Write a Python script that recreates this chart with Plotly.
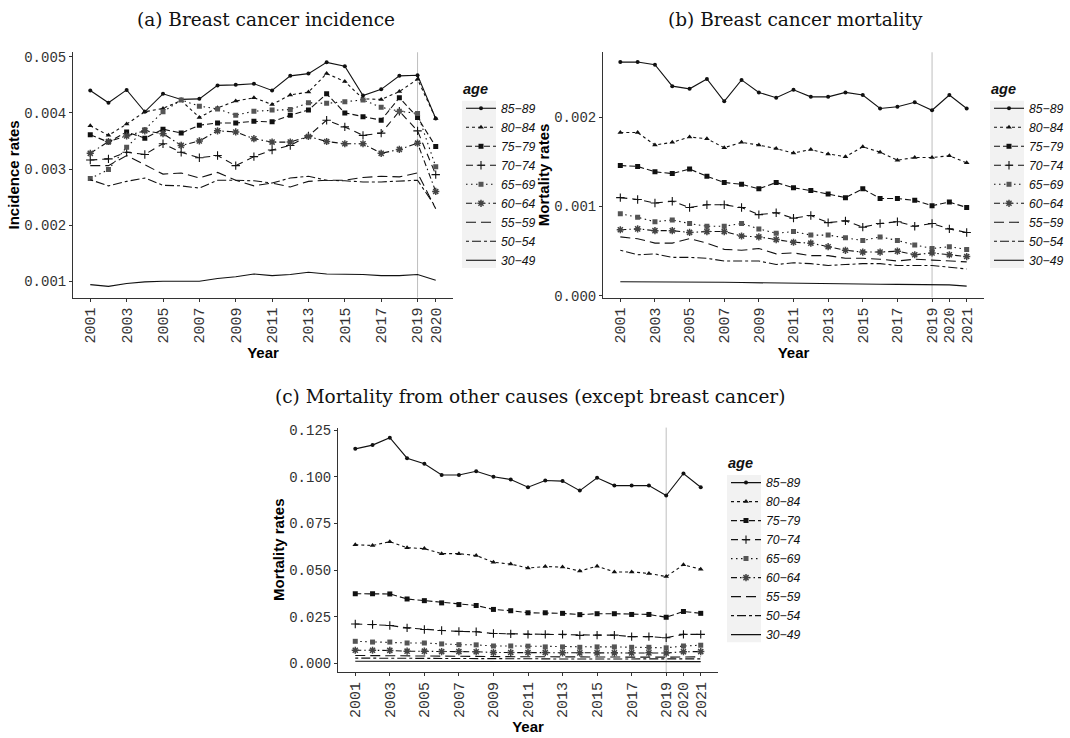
import plotly.graph_objects as go

# ---------------- data ----------------
ages = ["85−89", "80−84", "75−79", "70−74", "65−69", "60−64", "55−59", "50−54", "30−49"]

years_a = [2001, 2002, 2003, 2004, 2005, 2006, 2007, 2008, 2009, 2010,
           2011, 2012, 2013, 2014, 2015, 2016, 2017, 2018, 2019, 2020]
years_bc = [2001, 2002, 2003, 2004, 2005, 2006, 2007, 2008, 2009, 2010,
            2011, 2012, 2013, 2014, 2015, 2016, 2017, 2018, 2019, 2020, 2021]

xticks_a = [2001, 2003, 2005, 2007, 2009, 2011, 2013, 2015, 2017, 2019, 2020]
xticks_bc = [2001, 2003, 2005, 2007, 2009, 2011, 2013, 2015, 2017, 2019, 2020, 2021]
yticks_a = [0.001, 0.002, 0.003, 0.004, 0.005]
yticks_b = [0.000, 0.001, 0.002]
yticks_c = [0.000, 0.025, 0.050, 0.075, 0.100, 0.125]

# (a) Breast cancer incidence
inc_85_89 = [0.00440, 0.00418, 0.00441, 0.00402, 0.00434, 0.00424, 0.00425, 0.00449, 0.00450, 0.00452,
             0.00440, 0.00466, 0.00470, 0.00490, 0.00483, 0.00431, 0.00442, 0.00466, 0.00467, 0.00390]
inc_80_84 = [0.00377, 0.00360, 0.00380, 0.00402, 0.00408, 0.00422, 0.00392, 0.00409, 0.00421, 0.00427,
             0.00415, 0.00432, 0.00437, 0.00470, 0.00456, 0.00425, 0.00424, 0.00438, 0.00460, 0.00390]
inc_75_79 = [0.00361, 0.00348, 0.00366, 0.00355, 0.00371, 0.00364, 0.00378, 0.00382, 0.00382, 0.00385,
             0.00384, 0.00396, 0.00405, 0.00434, 0.00400, 0.00393, 0.00387, 0.00427, 0.00392, 0.00340]
inc_70_74 = [0.00316, 0.00318, 0.00330, 0.00326, 0.00345, 0.00330, 0.00320, 0.00324, 0.00306, 0.00322,
             0.00334, 0.00342, 0.00359, 0.00387, 0.00375, 0.00360, 0.00364, 0.00403, 0.00368, 0.00290]
inc_65_69 = [0.00283, 0.00299, 0.00339, 0.00370, 0.00402, 0.00423, 0.00412, 0.00407, 0.00396, 0.00403,
             0.00405, 0.00406, 0.00418, 0.00417, 0.00420, 0.00423, 0.00410, 0.00403, 0.00399, 0.00304]
inc_60_64 = [0.00328, 0.00349, 0.00359, 0.00368, 0.00363, 0.00342, 0.00350, 0.00368, 0.00366, 0.00354,
             0.00348, 0.00348, 0.00358, 0.00349, 0.00345, 0.00345, 0.00328, 0.00335, 0.00346, 0.00260]
inc_55_59 = [0.00306, 0.00306, 0.00324, 0.00307, 0.00291, 0.00293, 0.00284, 0.00294, 0.00280, 0.00270,
             0.00275, 0.00268, 0.00278, 0.00280, 0.00280, 0.00285, 0.00287, 0.00286, 0.00293, 0.00229]
inc_50_54 = [0.00281, 0.00270, 0.00278, 0.00284, 0.00271, 0.00270, 0.00266, 0.00280, 0.00280, 0.00279,
             0.00275, 0.00284, 0.00287, 0.00280, 0.00279, 0.00277, 0.00277, 0.00279, 0.00280, 0.00232]
inc_30_49 = [0.00094, 0.00091, 0.00096, 0.00099, 0.00100, 0.00100, 0.00100, 0.00105, 0.00108, 0.00113,
             0.00110, 0.00112, 0.00116, 0.00113, 0.00113, 0.00112, 0.00110, 0.00110, 0.00112, 0.00102]

# (b) Breast cancer mortality
bcm_85_89 = [0.00262, 0.00262, 0.00259, 0.00235, 0.00232, 0.00243, 0.00218, 0.00242, 0.00228, 0.00222, 0.00231,
             0.00223, 0.00223, 0.00228, 0.00225, 0.00210, 0.00212, 0.00217, 0.00208, 0.00225, 0.00210]
bcm_80_84 = [0.00183, 0.00183, 0.00169, 0.00172, 0.00178, 0.00176, 0.00166, 0.00172, 0.00169, 0.00165, 0.00160,
             0.00164, 0.00159, 0.00156, 0.00167, 0.00161, 0.00152, 0.00155, 0.00155, 0.00157, 0.00149]
bcm_75_79 = [0.00146, 0.00145, 0.00139, 0.00137, 0.00142, 0.00134, 0.00127, 0.00125, 0.00120, 0.00127, 0.00121,
             0.00118, 0.00114, 0.00110, 0.00120, 0.00109, 0.00109, 0.00107, 0.00101, 0.00105, 0.00099]
bcm_70_74 = [0.00110, 0.00108, 0.00104, 0.00106, 0.00099, 0.00102, 0.00102, 0.00099, 0.00091, 0.00093, 0.00087,
             0.00090, 0.00082, 0.00084, 0.00077, 0.00081, 0.00083, 0.00078, 0.00081, 0.00075, 0.00071]
bcm_65_69 = [0.00092, 0.00088, 0.00083, 0.00085, 0.00081, 0.00078, 0.00078, 0.00081, 0.00075, 0.00070, 0.00072,
             0.00068, 0.00068, 0.00065, 0.00062, 0.00066, 0.00062, 0.00057, 0.00053, 0.00055, 0.00052]
bcm_60_64 = [0.00074, 0.00075, 0.00073, 0.00073, 0.00071, 0.00072, 0.00072, 0.00067, 0.00066, 0.00063, 0.00060,
             0.00059, 0.00055, 0.00051, 0.00049, 0.00049, 0.00050, 0.00046, 0.00048, 0.00046, 0.00044]
bcm_55_59 = [0.00066, 0.00064, 0.00059, 0.00059, 0.00064, 0.00059, 0.00052, 0.00051, 0.00053, 0.00047, 0.00048,
             0.00045, 0.00045, 0.00042, 0.00042, 0.00041, 0.00039, 0.00041, 0.00040, 0.00039, 0.00038]
bcm_50_54 = [0.00051, 0.00046, 0.00047, 0.00043, 0.00043, 0.00042, 0.00039, 0.00039, 0.00039, 0.00035, 0.00037,
             0.00036, 0.00034, 0.00035, 0.00036, 0.00036, 0.00034, 0.00034, 0.00034, 0.00032, 0.00030]
bcm_30_49 = [0.000158, 0.000158, 0.000156, 0.000155, 0.000153, 0.000150, 0.000152, 0.000148, 0.000145, 0.000140,
             0.000138, 0.000138, 0.000135, 0.000133, 0.000132, 0.000130, 0.000128, 0.000127, 0.000125, 0.000122,
             0.000108]

# (c) Mortality from other causes
oth_85_89 = [0.1150, 0.1170, 0.1210, 0.1100, 0.1070, 0.1010, 0.1010, 0.1030, 0.1000, 0.0986, 0.0944,
             0.0980, 0.0977, 0.0926, 0.0995, 0.0953, 0.0953, 0.0953, 0.0900, 0.1018, 0.0944]
oth_80_84 = [0.0636, 0.0632, 0.0652, 0.0620, 0.0615, 0.0588, 0.0588, 0.0578, 0.0542, 0.0532, 0.0511,
             0.0519, 0.0516, 0.0495, 0.0521, 0.0490, 0.0490, 0.0482, 0.0465, 0.0528, 0.0505]
oth_75_79 = [0.0373, 0.0373, 0.0372, 0.0345, 0.0336, 0.0324, 0.0315, 0.0310, 0.0289, 0.0282, 0.0271,
             0.0271, 0.0268, 0.0261, 0.0266, 0.0266, 0.0262, 0.0262, 0.0247, 0.0278, 0.0268]
oth_70_74 = [0.0211, 0.0208, 0.0203, 0.0190, 0.0181, 0.0176, 0.0171, 0.0169, 0.0160, 0.0158, 0.0155,
             0.0155, 0.0155, 0.0150, 0.0151, 0.0151, 0.0143, 0.0143, 0.0137, 0.0155, 0.0155]
oth_65_69 = [0.0118, 0.0114, 0.0114, 0.0109, 0.0109, 0.0104, 0.0100, 0.0099, 0.0093, 0.0093, 0.0092,
             0.0088, 0.0088, 0.0086, 0.0088, 0.0088, 0.0086, 0.0086, 0.0083, 0.0093, 0.0097]
oth_60_64 = [0.0070, 0.0070, 0.0069, 0.0065, 0.0065, 0.0063, 0.0063, 0.0062, 0.0058, 0.0058, 0.0058,
             0.0058, 0.0056, 0.0056, 0.0056, 0.0056, 0.0056, 0.0056, 0.0055, 0.0062, 0.0063]
oth_55_59 = [0.0042, 0.0041, 0.0041, 0.0040, 0.0039, 0.0038, 0.0038, 0.0037, 0.0036, 0.0036, 0.0035,
             0.0035, 0.0034, 0.0034, 0.0034, 0.0034, 0.0033, 0.0033, 0.0033, 0.0035, 0.0035]
oth_50_54 = [0.0028, 0.0028, 0.0027, 0.0027, 0.0026, 0.0026, 0.0025, 0.0025, 0.0025, 0.0024, 0.0024,
             0.0024, 0.0023, 0.0023, 0.0023, 0.0023, 0.0023, 0.0022, 0.0022, 0.0024, 0.0024]
oth_30_49 = [0.0011, 0.0011, 0.0011, 0.0011, 0.0010, 0.0010, 0.0010, 0.0010, 0.0010, 0.0010, 0.0009,
             0.0009, 0.0009, 0.0009, 0.0009, 0.0009, 0.0009, 0.0009, 0.0009, 0.0009, 0.0009]

series_a = [inc_85_89, inc_80_84, inc_75_79, inc_70_74, inc_65_69, inc_60_64, inc_55_59, inc_50_54, inc_30_49]
series_b = [bcm_85_89, bcm_80_84, bcm_75_79, bcm_70_74, bcm_65_69, bcm_60_64, bcm_55_59, bcm_50_54, bcm_30_49]
series_c = [oth_85_89, oth_80_84, oth_75_79, oth_70_74, oth_65_69, oth_60_64, oth_55_59, oth_50_54, oth_30_49]

# ---------------- styles ----------------
INK = "#111111"
dashes = ["solid", "3px,3px", "6px,3px", "7px,5px", "1.5px,3.5px", "6px,3px,1.5px,3px",
          "10px,5px", "3px,3px,9px,3px", "solid"]
markers = [
    dict(symbol="circle", size=4, color=INK),
    dict(symbol="triangle-up", size=5, color=INK),
    dict(symbol="square", size=5, color=INK),
    dict(symbol="cross-thin-open", size=6, color=INK, line=dict(width=1.1, color=INK)),
    dict(symbol="square", size=5, color="#555555"),
    dict(symbol="asterisk-open", size=6, color="#444444", line=dict(width=1.5, color="#444444")),
    None, None, None,
]

W, H = 1070, 738


def px2x(p):
    return p / W


def px2y(p):
    return 1 - p / H


fig = go.Figure()

panels = [
    dict(xa="x", ya="y", years=years_a, series=series_a, legend="legend"),
    dict(xa="x2", ya="y2", years=years_bc, series=series_b, legend="legend2"),
    dict(xa="x3", ya="y3", years=years_bc, series=series_c, legend="legend3"),
]

for p in panels:
    for i, age in enumerate(ages):
        mk = markers[i]
        tr = dict(
            x=p["years"], y=p["series"][i], xaxis=p["xa"], yaxis=p["ya"],
            name="<i>" + age + "</i>", legend=p["legend"],
            line=dict(color=INK, width=1.1, dash=dashes[i]),
            mode="lines+markers" if mk else "lines",
        )
        if mk:
            tr["marker"] = mk
        fig.add_trace(go.Scatter(**tr))

xtickfont = dict(family="Liberation Mono, Courier New, monospace", size=15, color="#333333")
ytickfont = dict(family="Liberation Mono, Courier New, monospace", size=14, color="#333333")
titlefont = dict(family="Liberation Sans, Arial, sans-serif", size=15, color="#000000")


def xaxis(domain, rng, ticks, anchor):
    return dict(domain=domain, range=rng, tickvals=ticks, ticktext=[str(t) for t in ticks],
                tickangle=-90, tickfont=xtickfont, showgrid=False, zeroline=False,
                showline=True, linecolor="#333333", linewidth=1, ticks="outside",
                ticklen=3, tickcolor="#333333", anchor=anchor,
                title=dict(text="<b>Year</b>", font=titlefont, standoff=0))


def yaxis(domain, rng, ticks, title, anchor):
    return dict(domain=domain, range=rng, tickvals=ticks, tickformat=".3f",
                tickfont=ytickfont, showgrid=False, zeroline=False,
                showline=True, linecolor="#333333", linewidth=1, ticks="outside",
                ticklen=3, tickcolor="#333333", anchor=anchor,
                title=dict(text="<b>" + title + "</b>", font=titlefont, standoff=0))


dom_top_y = [px2y(298), px2y(49)]
dom_bot_y = [px2y(678), px2y(430)]

LEG_FONT = 12.2
legend_common = dict(
    font=dict(family="Liberation Sans, Arial, sans-serif", size=LEG_FONT, color="#111111"),
    title=dict(text="<b><i>age</i></b>", font=dict(family="Liberation Sans, Arial, sans-serif",
                                                    size=14.5, color="#111111")),
    bgcolor="rgba(0,0,0,0)", itemwidth=30, xanchor="left", yanchor="top",
    tracegroupgap=0, itemclick=False, itemdoubleclick=False,
)

# legend anchors (left x, top y) in pixels
leg_pos = [(461, 72), (989, 72), (726, 452)]

fig.update_layout(
    width=W, height=H, margin=dict(l=0, r=0, t=0, b=0),
    paper_bgcolor="white", plot_bgcolor="white",
    xaxis=xaxis([px2x(73), px2x(453)], [2000.05, 2020.95], xticks_a, "y"),
    yaxis=yaxis(dom_top_y, [0.00071, 0.00508], yticks_a, "Incidence rates", "x"),
    xaxis2=xaxis([px2x(603), px2x(984)], [2000.0, 2022.0], xticks_bc, "y2"),
    yaxis2=yaxis(dom_top_y, [-0.00002, 0.00273], yticks_b, "Mortality rates", "x2"),
    xaxis3=xaxis([px2x(338), px2x(718)], [2000.0, 2022.0], xticks_bc, "y3"),
    yaxis3=yaxis(dom_bot_y, [-0.0046, 0.1264], yticks_c, "Mortality rates", "x3"),
    legend=dict(x=px2x(leg_pos[0][0]), y=px2y(leg_pos[0][1]), **legend_common),
    legend2=dict(x=px2x(leg_pos[1][0]), y=px2y(leg_pos[1][1]), **legend_common),
    legend3=dict(x=px2x(leg_pos[2][0]), y=px2y(leg_pos[2][1]), **legend_common),
    showlegend=True,
    hovermode=False,
)

# light grey legend-key background (ggplot style)
item_h = LEG_FONT * 1.3 + 3
for lx, ly in leg_pos:
    first_c = ly + 35.6
    fig.add_shape(type="rect", xref="paper", yref="paper",
                  x0=px2x(lx + 1), x1=px2x(lx + 35),
                  y0=px2y(first_c - item_h / 2), y1=px2y(first_c + 8 * item_h + item_h / 2),
                  fillcolor="#F2F2F2", line=dict(width=0), layer="below")

# vertical reference line at 2019
for xa, ya in [("x", "y"), ("x2", "y2"), ("x3", "y3")]:
    fig.add_shape(type="line", xref=xa, yref=ya + " domain", x0=2019, x1=2019, y0=0, y1=1,
                  line=dict(color="#BEBEBE", width=1), layer="below")

# panel titles
title_font = dict(family="DejaVu Serif, Liberation Serif, serif", size=18.5, color="#111111")
for txt, cx, cy in [("(a) Breast cancer incidence", 266, 16),
                    ("(b) Breast cancer mortality", 795, 16),
                    ("(c) Mortality from other causes (except breast cancer)", 530, 398)]:
    fig.add_annotation(text=txt, xref="paper", yref="paper", x=px2x(cx), y=px2y(cy),
                       xanchor="center", yanchor="middle", showarrow=False, font=title_font)

fig.write_html("out.html", config={"displayModeBar": False, "staticPlot": False},
               post_script="document.body.style.margin='0px';document.body.style.overflow='hidden';")
